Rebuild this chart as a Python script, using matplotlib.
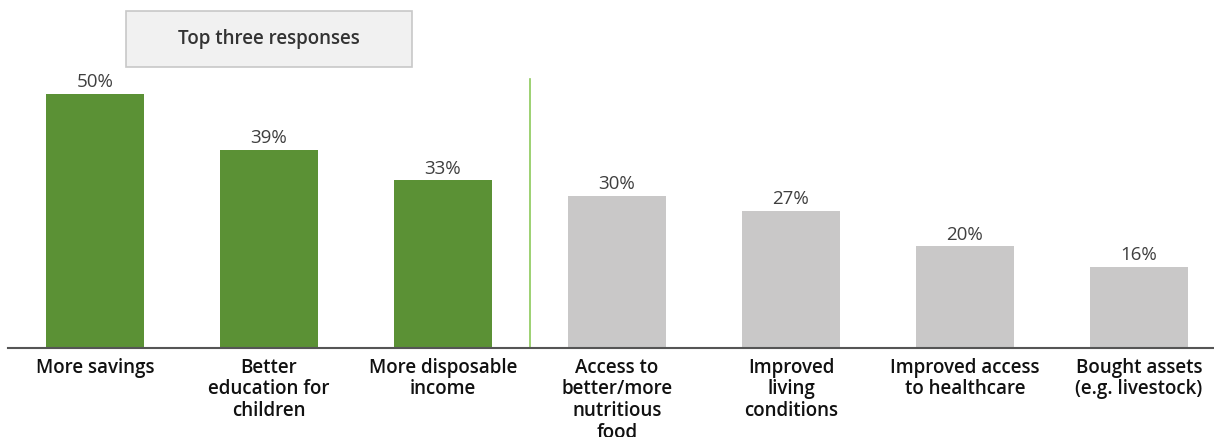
import matplotlib
matplotlib.use("Agg")
import matplotlib.pyplot as plt
from matplotlib.patches import Rectangle

categories = ["More savings", "Better\neducation for\nchildren", "More disposable\nincome",
              "Access to\nbetter/more\nnutritious\nfood", "Improved\nliving\nconditions",
              "Improved access\nto healthcare", "Bought assets\n(e.g. livestock)"]
values = [50, 39, 33, 30, 27, 20, 16]
value_labels = ["50%", "39%", "33%", "30%", "27%", "20%", "16%"]
highlight_count = 3
box_text = "Top three responses"

plt.rcParams['font.family'] = ['Open Sans', 'DejaVu Sans']

W, H = 1214, 437
fig = plt.figure(figsize=(W / 100, H / 100), dpi=100)
left_px, right_px = 8, 1214
base_px, top_px = 348, 0
ax = fig.add_axes([left_px / W, 1 - base_px / H, (right_px - left_px) / W, (base_px - top_px) / H])
xmax = -0.5 + (right_px - left_px) / 174.0
ax.set_xlim(-0.5, xmax)
scale = 5.08
ymax = (base_px - top_px) / scale
ax.set_ylim(0, ymax)

green = "#5B9135"
grey = "#C9C8C8"
colors = [green if i < highlight_count else grey for i in range(len(values))]
x = list(range(len(values)))
ax.bar(x, values, width=0.56, color=colors, zorder=2)

for xi, v, lab in zip(x, values, value_labels):
    ax.text(xi, v + 0.5, lab, ha="center", va="bottom", fontsize=13.5, color="#3f3f3f")

for side in ["top", "right", "left"]:
    ax.spines[side].set_visible(False)
ax.spines["bottom"].set_color("#555555")
ax.spines["bottom"].set_linewidth(1.5)
ax.set_yticks([])
ax.set_xticks(x)
ax.set_xticklabels(categories, fontsize=13.5, color="#111111", fontweight="semibold", linespacing=1.11)
ax.tick_params(axis="x", length=0, pad=7)

ax.plot([highlight_count - 0.5, highlight_count - 0.5], [0, (base_px - 79) / scale],
        color="#8CC95A", lw=1.2, zorder=1, clip_on=False)

bx0 = 0 + (126 - 95) / 174.0
bw = (412 - 126) / 174.0
by0 = (base_px - 67) / scale
bh = (67 - 11) / scale
ax.add_patch(Rectangle((bx0, by0), bw, bh, facecolor="#F1F1F1", edgecolor="#C8C8C8",
                       lw=1.2, clip_on=False, zorder=3))
ax.text(bx0 + bw / 2, by0 + bh / 2, box_text, ha="center", va="center", fontsize=13.5,
        color="#333333", fontweight="semibold", zorder=4)

fig.savefig("out.png", dpi=100)
